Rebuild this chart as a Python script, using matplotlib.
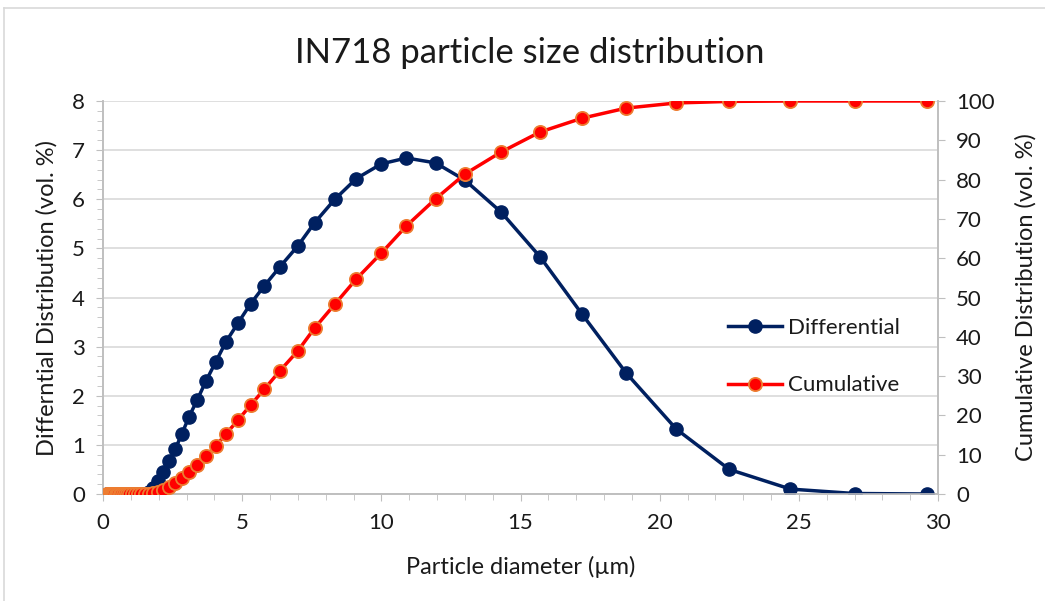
import matplotlib
matplotlib.use("Agg")
import matplotlib.pyplot as plt
from matplotlib.ticker import MultipleLocator
from matplotlib.lines import Line2D

plt.rcParams['font.family'] = ['Lato', 'DejaVu Sans']

# particle diameter bins (um)
diameter = [0.15, 0.165, 0.18, 0.198, 0.217, 0.238, 0.261, 0.286, 0.314, 0.344,
            0.377, 0.413, 0.453, 0.497, 0.545, 0.6, 0.655, 0.72, 0.79, 0.865,
            0.95, 1.04, 1.14, 1.25, 1.37, 1.5, 1.65, 1.8, 1.98, 2.17,
            2.37, 2.6, 2.83, 3.09, 3.38, 3.7, 4.05, 4.42, 4.85, 5.3,
            5.8, 6.35, 7.0, 7.6, 8.33, 9.1, 10.0, 10.9, 11.95, 13.0,
            14.3, 15.7, 17.2, 18.8, 20.6, 22.5, 24.7, 27.0, 29.6]

differential = [0, 0, 0, 0, 0, 0, 0, 0, 0, 0,
                0, 0, 0, 0, 0, 0, 0, 0, 0, 0,
                0, 0, 0, 0, 0, 0.01, 0.04, 0.12, 0.27, 0.45,
                0.67, 0.92, 1.22, 1.57, 1.91, 2.3, 2.69, 3.1, 3.48, 3.87,
                4.24, 4.62, 5.05, 5.52, 6.0, 6.42, 6.72, 6.84, 6.74, 6.39,
                5.74, 4.83, 3.67, 2.46, 1.32, 0.5, 0.1, 0.01, 0.0]

cumulative = [0, 0, 0, 0, 0, 0, 0, 0, 0, 0,
              0, 0, 0, 0, 0, 0, 0, 0, 0, 0,
              0, 0, 0, 0, 0, 0.03, 0.08, 0.2, 0.5, 1.0,
              1.8, 2.8, 4.1, 5.6, 7.4, 9.7, 12.2, 15.3, 18.8, 22.6,
              26.7, 31.3, 36.4, 42.2, 48.3, 54.7, 61.3, 68.2, 75.1, 81.4,
              87.0, 92.1, 95.6, 98.2, 99.5, 99.9, 100, 100, 100]

NAVY = '#002060'
RED = '#FF0000'
ORANGE = '#ED7D31'
GRAY = '#BFBFBF'
TXT = '#1a1a1a'

fig = plt.figure(figsize=(10.45, 6.01), dpi=100)
ax = fig.add_axes([103/1045, 1-494/601, 835/1045, 393/601])
ax2 = ax.twinx()

ax.plot(diameter, differential, color=NAVY, lw=2.5, marker='o', ms=9.5,
        mfc=NAVY, mec=NAVY, zorder=3)
ax2.plot(diameter, cumulative, color=RED, lw=2.5, marker='o', ms=9.5,
         mfc=RED, mec=ORANGE, mew=1.3, zorder=3)

ax.set_xlim(0, 30)
ax.set_ylim(0, 8)
ax2.set_ylim(0, 100)

ax.xaxis.set_major_locator(MultipleLocator(5))
ax.xaxis.set_minor_locator(MultipleLocator(1))
ax.yaxis.set_major_locator(MultipleLocator(1))
ax.yaxis.set_minor_locator(MultipleLocator(0.2))
ax2.yaxis.set_major_locator(MultipleLocator(10))

ax.grid(axis='y', which='major', color='#D9D9D9', lw=1.2)
ax.set_axisbelow(True)

for a in (ax, ax2):
    a.spines['top'].set_visible(False)
    for s in ('left', 'right', 'bottom'):
        a.spines[s].set_color(GRAY)
        a.spines[s].set_linewidth(1.2)
    a.tick_params(which='both', color=GRAY, labelcolor=TXT, labelsize=16)
    a.tick_params(which='major', length=5)
    a.tick_params(which='minor', length=4)
ax.tick_params(axis='x', pad=9)
ax.tick_params(axis='y', pad=8)
ax2.tick_params(axis='y', pad=8)

ax.set_xlabel('Particle diameter (µm)', fontsize=17, color=TXT, labelpad=16)
ax.set_ylabel('Differntial Distribution (vol. %)', fontsize=17, color=TXT, labelpad=10)
ax2.set_ylabel('Cumulative Distribution (vol. %)', fontsize=17, color=TXT, labelpad=15)

fig.text(530/1045, 1-53/601, 'IN718 particle size distribution', fontsize=25,
         color=TXT, ha='center', va='center')

handles = [Line2D([], [], color=NAVY, lw=2.5, marker='o', ms=9.5, mfc=NAVY, mec=NAVY),
           Line2D([], [], color=RED, lw=2.5, marker='o', ms=9.5, mfc=RED, mec=ORANGE, mew=1.3)]
ax2.legend(handles, ['Differential', 'Cumulative'], loc='center left',
           bbox_to_anchor=(0.725, 0.35), frameon=False, fontsize=16,
           labelspacing=1.7, handlelength=2.4, handletextpad=0.3, labelcolor=TXT)

# outer chart-area border
fig.add_artist(Line2D([4/1045, 4/1045], [0, 1-8/601], transform=fig.transFigure,
                      color='#D9D9D9', lw=1.2))
fig.add_artist(Line2D([4/1045, 1], [1-8/601, 1-8/601], transform=fig.transFigure,
                      color='#D9D9D9', lw=1.2))

fig.savefig('out.png', dpi=100)
